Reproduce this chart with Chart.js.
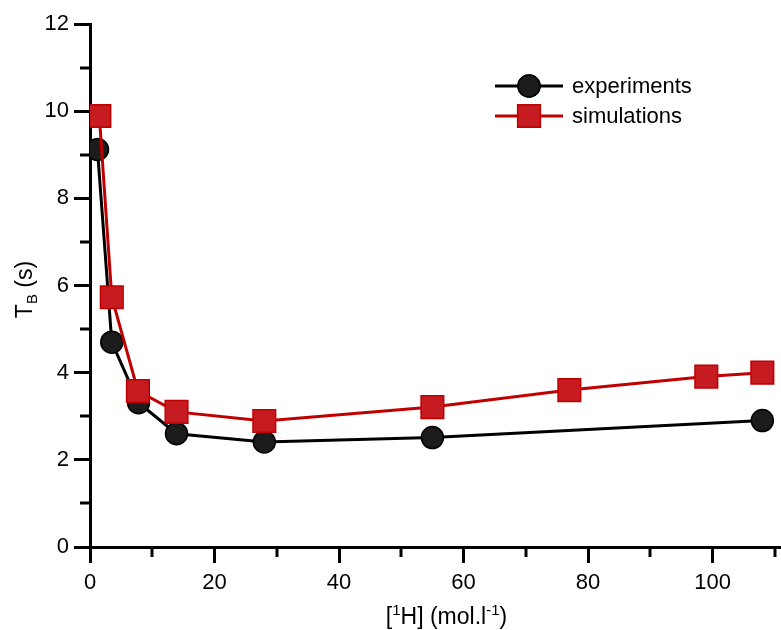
<!DOCTYPE html>
<html>
<head>
<meta charset="utf-8">
<script src="https://cdn.jsdelivr.net/npm/chart.js@4.4.1/dist/chart.umd.min.js"></script>
<style>
  html, body { margin: 0; padding: 0; background: #fff; }
  #wrap { width: 781px; height: 630px; }
</style>
</head>
<body>
<div id="wrap"><canvas id="chart" width="781" height="630"></canvas></div>
<script>
/* ==========================================================================
   DATA
   ========================================================================== */
const expX = [1.2, 3.5, 7.8, 13.9, 28, 55, 108];
const expY = [9.12, 4.7, 3.31, 2.6, 2.41, 2.51, 2.9];

const simX = [1.5, 3.5, 7.7, 13.9, 28, 55, 77, 99, 108];
const simY = [9.89, 5.73, 3.58, 3.1, 2.89, 3.21, 3.6, 3.91, 4.0];

const seriesNames = ["experiments", "simulations"];
const X_MAX = 111;
const xMajorTicks = [0, 20, 40, 60, 80, 100];
const xMinorTicks = [10, 30, 50, 70, 90, 110];
const yMajorTicks = [0, 2, 4, 6, 8, 10, 12];
const yMinorTicks = [1, 3, 5, 7, 9, 11];

/* ==========================================================================
   STYLE
   ========================================================================== */
const FONT = "'Liberation Sans', Arial, sans-serif";
const BLACK = "#000000";
const DOT_FILL = "#1c1c1c";
const RED = "#c00000";
const SQUARE_FILL = "#c51b21";

function toPoints(xs, ys) {
    return xs.map((x, i) => ({ x: x, y: ys[i] }));
}

// draw text made of [text, font, baselineShift] pieces, centred on x
function drawRichText(ctx, parts, x, y) {
    let total = 0;
    parts.forEach(p => { ctx.font = p[1]; total += ctx.measureText(p[0]).width; });
    let cx = x - total / 2;
    parts.forEach(p => {
        ctx.font = p[1];
        ctx.fillText(p[0], cx, y + p[2]);
        cx += ctx.measureText(p[0]).width;
    });
}

// minor ticks (Chart.js has none) + axis titles with sub/superscripts + legend
const extrasPlugin = {
    id: "extras",
    afterDraw(chart) {
        const ctx = chart.ctx;
        const xs = chart.scales.x;
        const ys = chart.scales.y;
        const area = chart.chartArea;

        ctx.save();
        ctx.strokeStyle = BLACK;
        ctx.lineWidth = 3;
        ctx.lineCap = "butt";
        yMinorTicks.forEach(v => {
            const py = Math.round(ys.getPixelForValue(v));
            ctx.beginPath();
            ctx.moveTo(area.left - 10, py);
            ctx.lineTo(area.left, py);
            ctx.stroke();
        });
        xMinorTicks.forEach(v => {
            const px = Math.round(xs.getPixelForValue(v));
            ctx.beginPath();
            ctx.moveTo(px, area.bottom);
            ctx.lineTo(px, area.bottom + 10);
            ctx.stroke();
        });

        ctx.fillStyle = BLACK;
        ctx.textBaseline = "alphabetic";
        ctx.textAlign = "left";
        const big = "23px " + FONT;
        const small = "15px " + FONT;

        // x title: [1H] (mol.l-1)
        drawRichText(ctx, [
            ["[", big, 0], ["1", small, -9], ["H] (mol.l", big, 0], ["-1", small, -9], [")", big, 0]
        ], (area.left + area.right) / 2 + 11, area.bottom + 77);

        // y title: T_B (s)
        ctx.save();
        ctx.translate(32, (area.top + area.bottom) / 2 + 4);
        ctx.rotate(-Math.PI / 2);
        drawRichText(ctx, [["T", big, 0], ["B", small, 5], [" (s)", big, 0]], 0, 0);
        ctx.restore();

        // legend
        const lx = area.right - 286;
        const rows = [
            { y: area.top + 62, color: BLACK, fill: DOT_FILL, style: "circle", r: 11 },
            { y: area.top + 92, color: RED, fill: SQUARE_FILL, style: "rect", r: 16 }
        ];
        rows.forEach((row, i) => {
            ctx.strokeStyle = row.color;
            ctx.lineWidth = 3;
            ctx.beginPath();
            ctx.moveTo(lx, row.y);
            ctx.lineTo(lx + 68, row.y);
            ctx.stroke();
            ctx.fillStyle = row.fill;
            ctx.lineWidth = 1.5;
            Chart.helpers.drawPoint(ctx, { pointStyle: row.style, radius: row.r, borderWidth: 1.5 }, lx + 34, row.y);
            ctx.fill();
            ctx.stroke();
            ctx.fillStyle = BLACK;
            ctx.font = "22px " + FONT;
            ctx.textBaseline = "middle";
            ctx.fillText(seriesNames[i], lx + 77, row.y + 1);
        });
        ctx.restore();
    }
};

const ctx = document.getElementById("chart").getContext("2d");
new Chart(ctx, {
    type: "line",
    data: {
        datasets: [
            {
                label: seriesNames[0],
                data: toPoints(expX, expY),
                borderColor: BLACK,
                borderWidth: 3,
                backgroundColor: DOT_FILL,
                pointStyle: "circle",
                pointRadius: 11,
                pointBorderWidth: 1.5,
                pointBorderColor: BLACK,
                pointBackgroundColor: DOT_FILL,
                tension: 0,
                order: 1
            },
            {
                label: seriesNames[1],
                data: toPoints(simX, simY),
                borderColor: RED,
                borderWidth: 3,
                backgroundColor: SQUARE_FILL,
                pointStyle: "rect",
                pointRadius: 16,
                pointBorderWidth: 1.5,
                pointBorderColor: RED,
                pointBackgroundColor: SQUARE_FILL,
                tension: 0,
                order: 0
            }
        ]
    },
    options: {
        responsive: false,
        animation: false,
        // big markers would otherwise make Chart.js pad the plot area
        layout: { autoPadding: false, padding: { top: 24, right: 0, left: 0, bottom: 0 } },
        plugins: {
            legend: { display: false },
            tooltip: { enabled: false }
        },
        scales: {
            x: {
                type: "linear",
                min: 0,
                max: X_MAX,
                afterFit: s => { s.height = 83; },
                afterBuildTicks: s => { s.ticks = xMajorTicks.map(v => ({ value: v })); },
                border: { color: BLACK, width: 3 },
                grid: { drawOnChartArea: false, drawTicks: true, tickLength: 16, tickWidth: 3, tickColor: BLACK },
                ticks: { color: BLACK, font: { family: FONT, size: 22 }, padding: 7, maxRotation: 0 }
            },
            y: {
                type: "linear",
                min: 0,
                max: 12,
                afterFit: s => { s.width = 90; },
                afterBuildTicks: s => { s.ticks = yMajorTicks.map(v => ({ value: v })); },
                border: { color: BLACK, width: 3 },
                grid: { drawOnChartArea: false, drawTicks: true, tickLength: 16, tickWidth: 3, tickColor: BLACK },
                ticks: { color: BLACK, font: { family: FONT, size: 22 }, padding: 5 }
            }
        }
    },
    plugins: [extrasPlugin]
});
</script>
</body>
</html>
